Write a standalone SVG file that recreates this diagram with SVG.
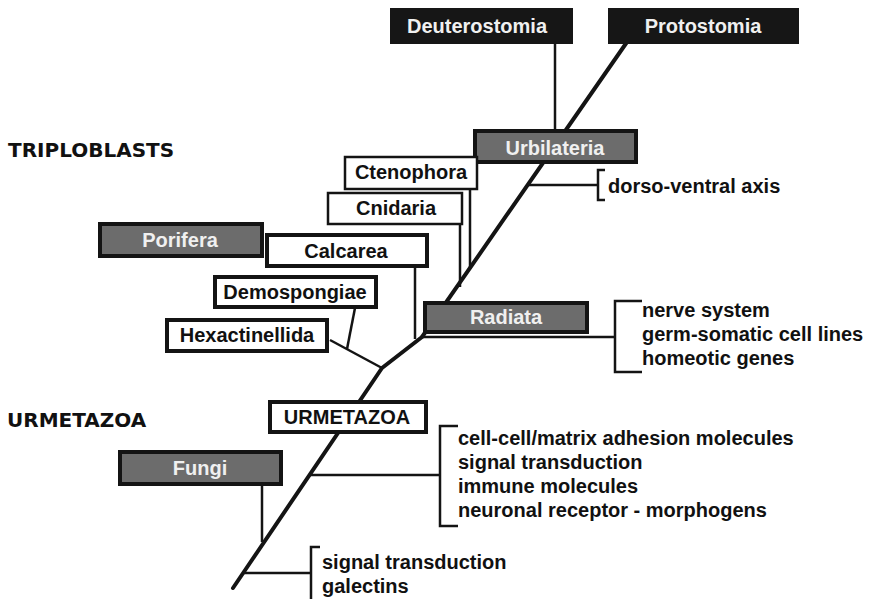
<svg xmlns="http://www.w3.org/2000/svg" width="871" height="599" viewBox="0 0 871 599">
<style>
.t{font-family:"Liberation Sans",Arial,sans-serif;font-weight:bold;font-size:20px}
.lbl{font-family:"DejaVu Sans",Verdana,sans-serif;font-weight:bold;font-size:20px;fill:#111}
.w{fill:#f0f0f0;text-anchor:middle}
.k{fill:#111;text-anchor:middle}
.a{fill:#111}
.dark{fill:#161616;stroke:#161616;stroke-width:2}
.gray{fill:#6c6c6c;stroke:#141414;stroke-width:4}
.white{fill:#fff;stroke:#141414;stroke-width:4}
.thin{fill:#fff;stroke:#141414;stroke-width:2.5}
.ln{fill:none;stroke:#141414;stroke-width:2.5}
.main{fill:none;stroke:#141414;stroke-width:4;stroke-linejoin:round;stroke-linecap:round}
.br{fill:none;stroke:#141414;stroke-width:2.5}
</style>
<rect width="871" height="599" fill="#fff"/>
<g id="connectors">
<polyline class="main" points="233,588 382,368 422,337 627,42"/>
<line class="ln" x1="555" y1="43" x2="555" y2="130"/>
<line class="ln" x1="470" y1="189" x2="470" y2="269"/>
<line class="ln" x1="460" y1="224" x2="460" y2="287"/>
<line class="ln" x1="415" y1="266" x2="415" y2="339"/>
<line class="ln" x1="420" y1="337" x2="615" y2="337"/>
<line class="ln" x1="330" y1="340" x2="382" y2="368"/>
<line class="ln" x1="355" y1="308" x2="347" y2="349"/>
<line class="ln" x1="262" y1="484" x2="262" y2="542"/>
<line class="ln" x1="529" y1="185" x2="598" y2="185"/>
<line class="ln" x1="310" y1="475" x2="440" y2="475"/>
<line class="ln" x1="243" y1="573" x2="311" y2="573"/>
</g>
<g id="brackets">
<path class="br" d="M605,170 H598 V200 H605"/>
<path class="br" d="M642,301 H615 V372 H642"/>
<path class="br" d="M458,426 H440 V526 H458"/>
<path class="br" d="M320,547 H311 V602"/>
</g>
<g id="n-deuterostomia"><rect class="dark" x="391" y="9" width="181" height="34"/><text class="t w" x="477" y="33">Deuterostomia</text></g>
<g id="n-protostomia"><rect class="dark" x="609" y="9" width="189" height="34"/><text class="t w" x="703" y="33">Protostomia</text></g>
<g id="n-urbilateria"><rect class="gray" x="475" y="131" width="161" height="31"/><text class="t w" x="555" y="155">Urbilateria</text></g>
<g id="n-ctenophora"><rect class="thin" x="345" y="157" width="132" height="32"/><text class="t k" x="411" y="179">Ctenophora</text></g>
<g id="n-cnidaria"><rect class="thin" x="328" y="193" width="134" height="31"/><text class="t k" x="396" y="215">Cnidaria</text></g>
<g id="n-porifera"><rect class="gray" x="100" y="224" width="162" height="32"/><text class="t w" x="180" y="247">Porifera</text></g>
<g id="n-calcarea"><rect class="white" x="267" y="235" width="160" height="31"/><text class="t k" x="346" y="258">Calcarea</text></g>
<g id="n-demospongiae"><rect class="white" x="215" y="277" width="161" height="30"/><text class="t k" x="295" y="299">Demospongiae</text></g>
<g id="n-hexactinellida"><rect class="white" x="167" y="320" width="160" height="31"/><text class="t k" x="247" y="342">Hexactinellida</text></g>
<g id="n-radiata"><rect class="gray" x="425" y="303" width="162" height="29"/><text class="t w" x="506" y="324">Radiata</text></g>
<g id="n-urmetazoa"><rect class="white" x="270" y="402" width="156" height="30"/><text class="t k" x="347" y="424">URMETAZOA</text></g>
<g id="n-fungi"><rect class="gray" x="120" y="452" width="161" height="32"/><text class="t w" x="200" y="475">Fungi</text></g>
<g id="labels">
<text class="lbl" x="8" y="157">TRIPLOBLASTS</text>
<text class="lbl" x="7" y="427">URMETAZOA</text>
<text class="t a" x="608" y="193">dorso-ventral axis</text>
<text class="t a" x="642" y="317">nerve system</text>
<text class="t a" x="642" y="341">germ-somatic cell lines</text>
<text class="t a" x="642" y="365">homeotic genes</text>
<text class="t a" x="458" y="445">cell-cell/matrix adhesion molecules</text>
<text class="t a" x="458" y="469">signal transduction</text>
<text class="t a" x="458" y="493">immune molecules</text>
<text class="t a" x="458" y="517">neuronal receptor - morphogens</text>
<text class="t a" x="322" y="569">signal transduction</text>
<text class="t a" x="322" y="593">galectins</text>
</g>
</svg>
